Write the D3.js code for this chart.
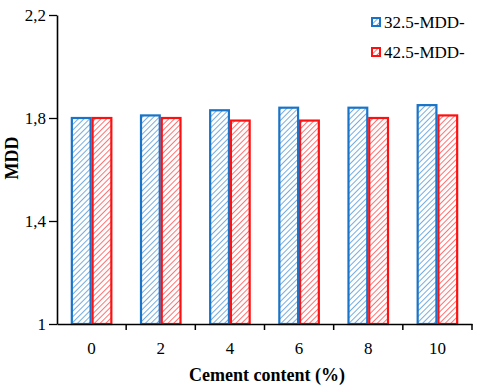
<!DOCTYPE html>
<html>
<head>
	<meta charset="utf-8">
	<title>MDD vs cement content</title>
	<script src="https://d3js.org/d3.v7.min.js" charset="utf-8"></script>
	<style>
		body { margin: 0; background: #fff; }
		text { font-family: "Liberation Serif", "Times New Roman", serif; }
	</style>
</head>
<body>
	<svg width="480" height="388"></svg>
	<script>
		var categories = ['0', '2', '4', '6', '8', '10'];
		var seriesNames = ['32.5-MDD-', '42.5-MDD-'];
		var mdd325 = [1.80, 1.81, 1.83, 1.84, 1.84, 1.85];
		var mdd425 = [1.80, 1.80, 1.79, 1.79, 1.80, 1.81];
		var yTicks = [1, 1.4, 1.8, 2.2];
		var colors = ['#1874c8', '#ff1010'];

		const margin = {top: 15, right: 8, bottom: 64, left: 57};
		const width = 480 - margin.left - margin.right;
		const height = 388 - margin.top - margin.bottom;

		var svg = d3.select('svg');

		// hatch patterns for the bars
		var defs = svg.append('defs');
		colors.forEach(function(c, i) {
			var p = defs.append('pattern')
				.attr('id', 'hatch' + i)
				.attr('patternUnits', 'userSpaceOnUse')
				.attr('width', 4).attr('height', 4)
				.attr('patternTransform', 'rotate(45)');
			p.append('rect').attr('width', 4).attr('height', 4).attr('fill', '#fff');
			p.append('line')
				.attr('x1', 0).attr('y1', 0).attr('x2', 0).attr('y2', 4)
				.attr('stroke', c).attr('stroke-width', 1.4).attr('stroke-opacity', 0.85);
		});

		const chart = svg.append('g')
			.attr('transform', `translate(${margin.left}, ${margin.top})`);

		const xScale = d3.scaleBand()
			.range([0, width])
			.domain(categories)
			.paddingInner(0)
			.paddingOuter(0);

		const xInner = d3.scaleBand()
			.domain([0, 1])
			.range([xScale.bandwidth() * 0.2, xScale.bandwidth() * 0.8]);

		const yScale = d3.scaleLinear()
			.range([height, 0])
			.domain([1, 2.2]);

		var fmt = function(d) { return d3.format('.1f')(d).replace('.', ',').replace(',0', ''); };

		var series = [mdd325, mdd425];
		series.forEach(function(vals, si) {
			chart.append('g').selectAll('rect')
				.data(vals)
				.enter()
				.append('rect')
				.attr('x', (d, i) => xScale(categories[i]) + xInner(si) + 1)
				.attr('y', (d) => yScale(d))
				.attr('width', xInner.bandwidth() - 2)
				.attr('height', (d) => height - yScale(d))
				.attr('fill', 'url(#hatch' + si + ')')
				.attr('stroke', colors[si])
				.attr('stroke-width', 2.2);
		});

		// y axis
		const yAxis = chart.append('g')
			.call(d3.axisLeft(yScale).tickValues(yTicks).tickFormat(fmt).tickSize(8).tickSizeOuter(0));
		yAxis.select('.domain').attr('stroke', '#000').attr('stroke-width', 1.6);
		yAxis.selectAll('.tick line').attr('stroke-width', 1.3);
		yAxis.selectAll('text').attr('font-size', 17).attr('fill', '#000').attr('dx', 0);

		// x axis
		const xAxis = chart.append('g')
			.attr('transform', `translate(0, ${height})`)
			.call(d3.axisBottom(xScale).tickSize(0).tickSizeOuter(0));
		xAxis.select('.domain').attr('stroke', '#000').attr('stroke-width', 1.6);
		xAxis.selectAll('text').attr('font-size', 17).attr('fill', '#000').attr('dy', '1.6em');
		// tick marks at category boundaries
		xAxis.selectAll('.bound')
			.data(categories.slice(1).concat(['end']))
			.enter()
			.append('line')
			.attr('x1', (d, i) => xScale.step() * (i + 1))
			.attr('x2', (d, i) => xScale.step() * (i + 1))
			.attr('y1', 0).attr('y2', 6)
			.attr('stroke', '#000').attr('stroke-width', 1.5);

		// axis titles
		svg.append('text')
			.attr('transform', 'translate(18, 158) rotate(-90)')
			.attr('text-anchor', 'middle')
			.attr('font-weight', 'bold')
			.attr('font-size', 18)
			.text('MDD');

		svg.append('text')
			.attr('x', 267).attr('y', 381)
			.attr('text-anchor', 'middle')
			.attr('font-weight', 'bold')
			.attr('font-size', 18)
			.text('Cement content (%)');

		// legend
		const legend = svg.append('g').attr('transform', 'translate(372, 18)');
		seriesNames.forEach(function(name, i) {
			var g = legend.append('g').attr('transform', `translate(0, ${i * 30})`);
			g.append('rect')
				.attr('x', 0).attr('y', 0).attr('width', 8).attr('height', 8)
				.attr('fill', 'url(#hatch' + i + ')')
				.attr('stroke', colors[i]).attr('stroke-width', 2);
			g.append('text')
				.attr('x', 12).attr('y', 10)
				.attr('font-size', 17)
				.text(name);
		});
	</script>
</body>
</html>
